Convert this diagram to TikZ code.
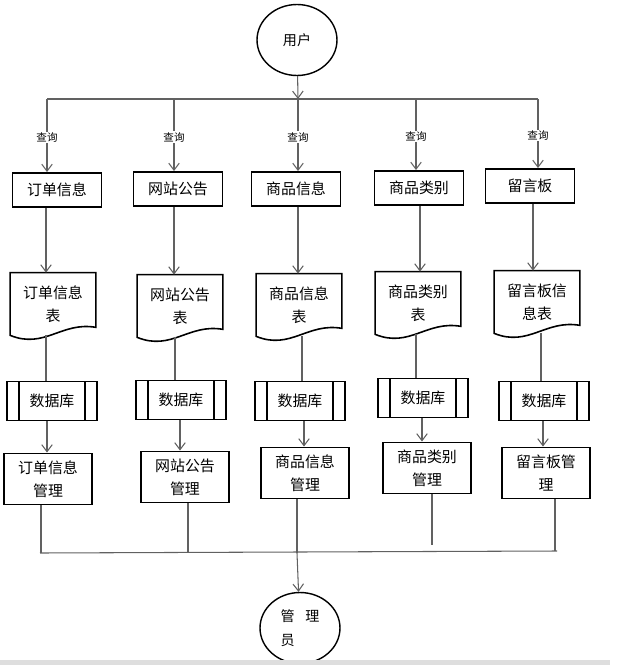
\documentclass[tikz,border=0pt]{standalone}
\usepackage{fontspec}
\setmainfont{Noto Sans CJK SC}
\usetikzlibrary{shapes.geometric,arrows.meta,calc}

\tikzset{
  flowline/.style={draw=black!62, line width=0.6pt},
  flowarrow/.style={flowline, -{Straight Barb[length=4pt,width=6pt]}},
  cjk/.style={font=\fontsize{8.5}{13}\selectfont},
  roundnode/.style={ellipse, draw, line width=0.8pt, minimum width=1.6cm, minimum height=1.42cm, inner sep=0pt, font=\fontsize{8}{14}\selectfont},
  topbox/.style={cjk, draw, line width=1.1pt, minimum width=1.78cm, minimum height=0.68cm, inner sep=0pt},
  docbox/.style={cjk, minimum width=1.7cm, minimum height=1.24cm, inner sep=0pt, align=center},
  dbbox/.style={cjk, draw, line width=1pt, minimum width=1.8cm, minimum height=0.78cm, inner sep=0pt,
    path picture={
      \draw[line width=1pt] ([xshift=0.24cm]path picture bounding box.north west) -- ([xshift=0.24cm]path picture bounding box.south west);
      \draw[line width=1pt] ([xshift=-0.24cm]path picture bounding box.north east) -- ([xshift=-0.24cm]path picture bounding box.south east);}},
  mgbox/.style={cjk, draw, line width=1.1pt, minimum width=1.77cm, minimum height=1.02cm, inner sep=0pt, align=center},
  qlabel/.style={font=\fontsize{6}{7}\selectfont, fill=white, inner sep=0.5pt}
}

\begin{document}
\begin{tikzpicture}[x=0.02cm, y=-0.02cm]
  \useasboundingbox (0,0) rectangle (640,670);

  % users and administrators
  \node[roundnode] (user) at (297,40) {用户};
  \node[roundnode, align=left] (admin) at (300,628) {管\hspace{6pt}理\\员};

  % the five columns
  \foreach \i/\x/\y/\t in {1/57/190/订单信息, 2/178/189/网站公告, 3/296/189/商品信息, 4/419/188/商品类别, 5/530/186/留言板}
    \node[topbox] (b\i) at (\x,\y) {\t};
  \foreach \i/\x/\y/\t in {1/53/304/订单信息\\表, 2/180/306/网站公告\\表, 3/299/305/商品信息\\表, 4/418/303/商品类别\\表, 5/537/302/留言板信\\息表}
    \node[docbox] (d\i) at (\x,\y) {\t};
  \foreach \i/\x/\y in {1/52/401, 2/181/400, 3/300/401, 4/423/398, 5/544/401}
    \node[dbbox] (db\i) at (\x,\y) {数据库};
  \foreach \i/\x/\y/\t in {1/48/479/订单信息\\管理, 2/185/477/网站公告\\管理, 3/305/473/商品信息\\管理, 4/427/468/商品类别\\管理, 5/546/473/留言板管\\理}
    \node[mgbox] (m\i) at (\x,\y) {\t};

  % document outlines
  \foreach \i in {1,...,5}
    \draw[line width=0.9pt] (d\i.north west) -- (d\i.north east) -- ($(d\i.south east)+(0,-8)$)
      .. controls ($(d\i.south west)!0.6!(d\i.south east)+(0,-14)$) and ($(d\i.south west)!0.4!(d\i.south east)+(0,14)$) .. (d\i.south west) -- cycle;

  % connectors
  \foreach \i/\xa/\xb/\xc/\xd/\xe/\ye in {1/47/46/46/47/41/553, 2/174/174/175/180/188/553, 3/298/298/302/304/297/553, 4/416/420/416/422/432/545, 5/538/533/541/543/555/551} {
    \coordinate (t\i) at (\xa,99);
    \coordinate (e\i) at (\xe,\ye);
    \draw[flowarrow] (t\i) -- (b\i.north -| t\i) node[qlabel, pos=0.53] {查询};
    \draw[flowarrow] (b\i.south -| \xb,0) -- (d\i.north -| \xb,0);
    \draw[flowline] (d\i.south -| \xc,0) -- (db\i.north -| \xc,0);
    \draw[flowarrow] (db\i.south -| \xd,0) -- (m\i.north -| \xd,0);
    \draw[flowline] (m\i.south -| e\i) -- (e\i);
  }
  \draw[flowline] (t1) -- (t5);
  \draw[flowarrow] (user) -- (t3);

  \coordinate (bl) at (40,553);
  \coordinate (br) at (557,551);
  \draw[flowline] (bl) -- (br);
  \draw[flowarrow] (e3) -- (admin);

  % page edge
  \fill[black!13] (0,660) rectangle (610,665);
\end{tikzpicture}
\end{document}
